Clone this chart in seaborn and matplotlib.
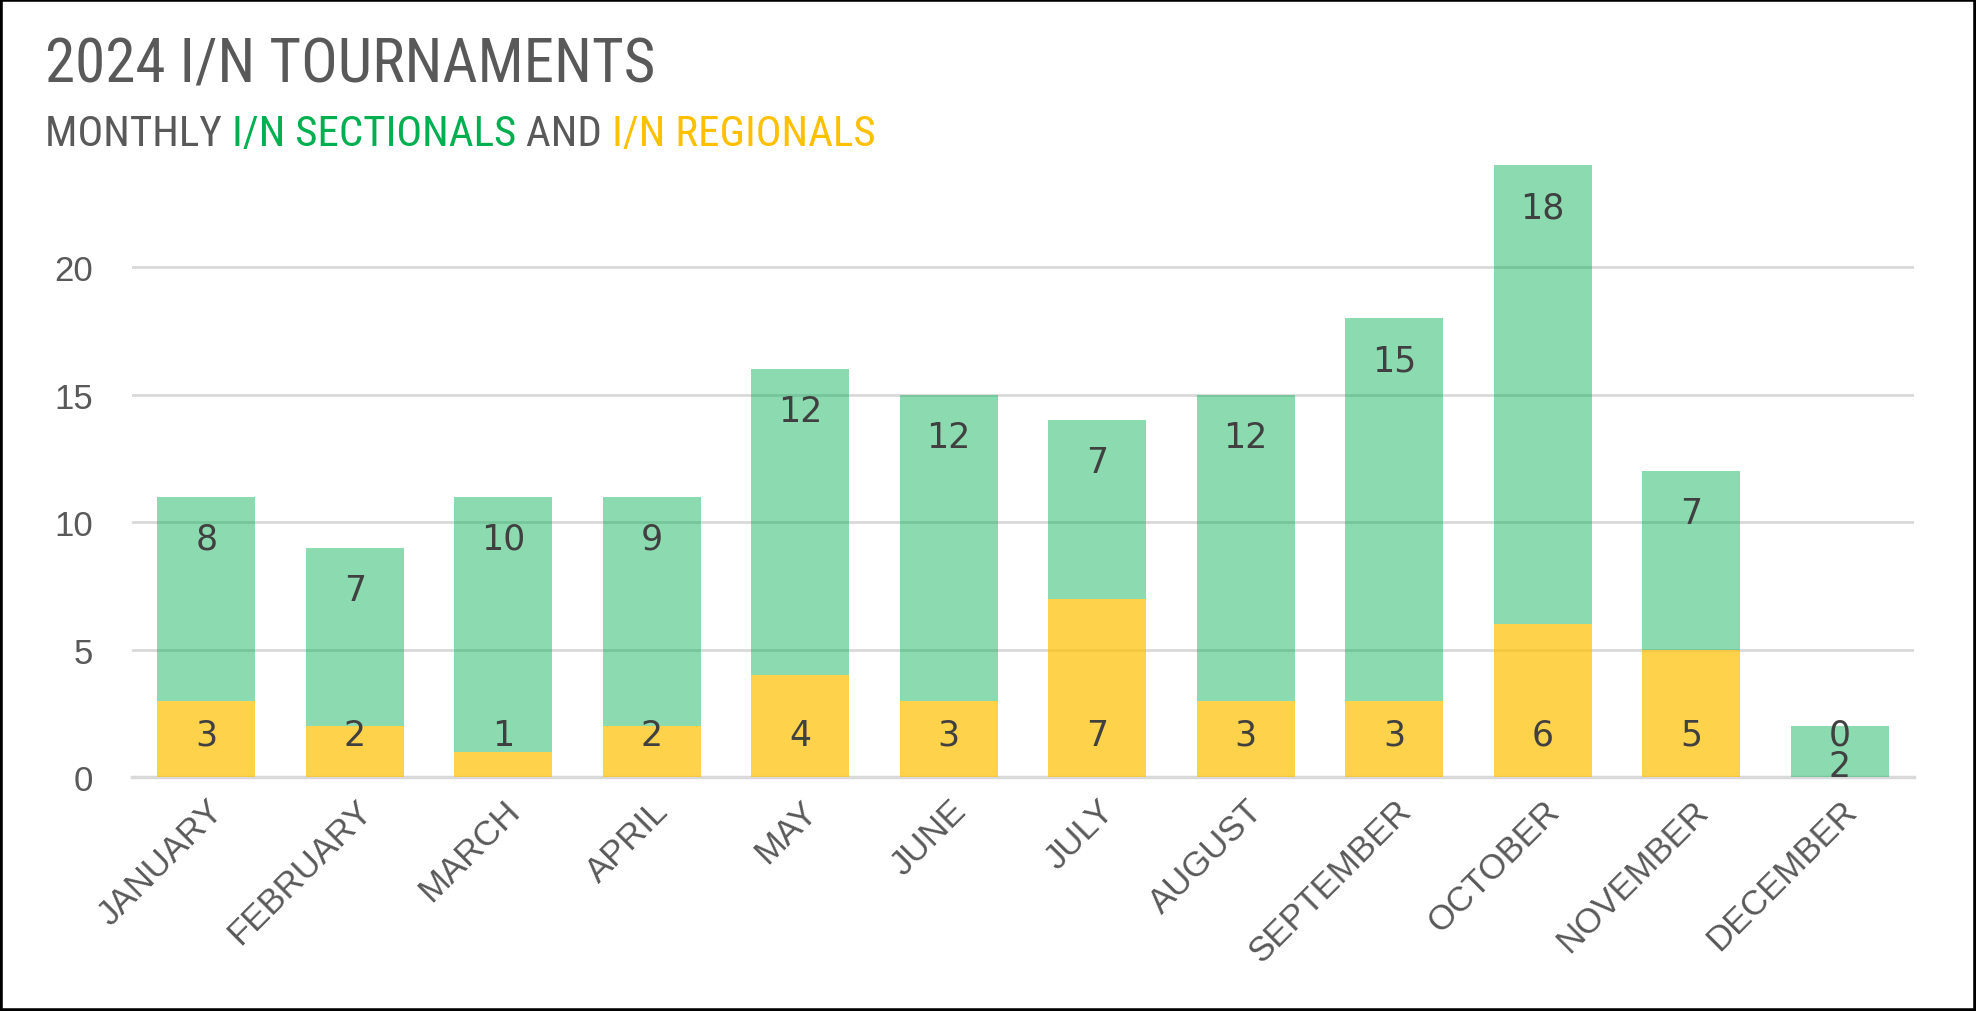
import seaborn as sns
import matplotlib.pyplot as plt
from matplotlib import font_manager
from matplotlib.patches import Rectangle

months = ['JANUARY', 'FEBRUARY', 'MARCH', 'APRIL', 'MAY', 'JUNE',
          'JULY', 'AUGUST', 'SEPTEMBER', 'OCTOBER', 'NOVEMBER', 'DECEMBER']
sectionals = [8, 7, 10, 9, 12, 12, 7, 12, 15, 18, 7, 2]
regionals = [3, 2, 1, 2, 4, 3, 7, 3, 3, 6, 5, 0]
totals = [s + r for s, r in zip(sectionals, regionals)]

GREEN = '#00B050'
YELLOW = '#FFC000'
GREY = '#595959'

sns.set_theme(style='white')

# narrow font for the headings if one is installed
names = {f.name for f in font_manager.fontManager.ttflist}
narrow = next((n for n in ['Liberation Sans Narrow', 'Roboto Condensed',
                           'Open Sans Condensed', 'Liberation Sans'] if n in names), 'DejaVu Sans')
plt.rcParams['font.family'] = ['Liberation Sans', 'DejaVu Sans']

fig = plt.figure(figsize=(19.76, 10.12), dpi=100)
ax = fig.add_axes([0.0668, 0.2312, 0.9018, 0.6047])

sns.barplot(x=months, y=regionals, color=YELLOW, alpha=0.7, width=0.66,
            saturation=1, ax=ax, zorder=2, linewidth=0)
sns.barplot(x=months, y=sectionals, bottom=regionals, color=GREEN, alpha=0.45,
            width=0.66, saturation=1, ax=ax, zorder=2, linewidth=0)

ax.set_ylim(0, 24)
ax.set_xlim(-0.5, 11.5)
ax.set_yticks([0, 5, 10, 15, 20])
ax.yaxis.grid(True, color='#D9D9D9', linewidth=2, zorder=1)
ax.set_axisbelow(True)
for side in ['top', 'right', 'left']:
    ax.spines[side].set_visible(False)
ax.spines['bottom'].set_color('#D9D9D9')
ax.spines['bottom'].set_linewidth(2.5)
ax.spines['bottom'].set_zorder(1)
ax.tick_params(axis='both', length=0, labelsize=25, labelcolor=GREY)
ax.tick_params(axis='y', pad=28)
ax.tick_params(axis='x', pad=12)
plt.setp(ax.get_xticklabels(), rotation=45, ha='right', va='top', rotation_mode='anchor')
ax.set_xlabel('')
ax.set_ylabel('')

# data labels: regionals inside base, sectionals inside end
for i, (s, r, t) in enumerate(zip(sectionals, regionals, totals)):
    ax.text(i, 1.65, str(r), ha='center', va='center', fontsize=25,
            color='#404040', family='DejaVu Sans', zorder=3)
    ax.text(i, max(t - 1.65, r + 0.43), str(s), ha='center', va='center',
            fontsize=25, color='#404040', family='DejaVu Sans', zorder=3)

fig.text(0.0228, 0.918, '2024 I/N TOURNAMENTS', fontsize=44, color=GREY,
         family=narrow, va='baseline')

# multi-coloured subtitle
renderer = fig.canvas.get_renderer()
x = 0.0228
for part, col in [('MONTHLY ', GREY), ('I/N SECTIONALS', GREEN),
                  (' AND ', GREY), ('I/N REGIONALS', YELLOW)]:
    t = fig.text(x, 0.856, part, fontsize=31, color=col, family=narrow, va='baseline')
    bb = t.get_window_extent(renderer)
    x += bb.width / fig.bbox.width

fig.patches.append(Rectangle((0, 0), 1, 1, transform=fig.transFigure, fill=False,
                             edgecolor='black', linewidth=4))

fig.savefig('out.png', dpi=100)
